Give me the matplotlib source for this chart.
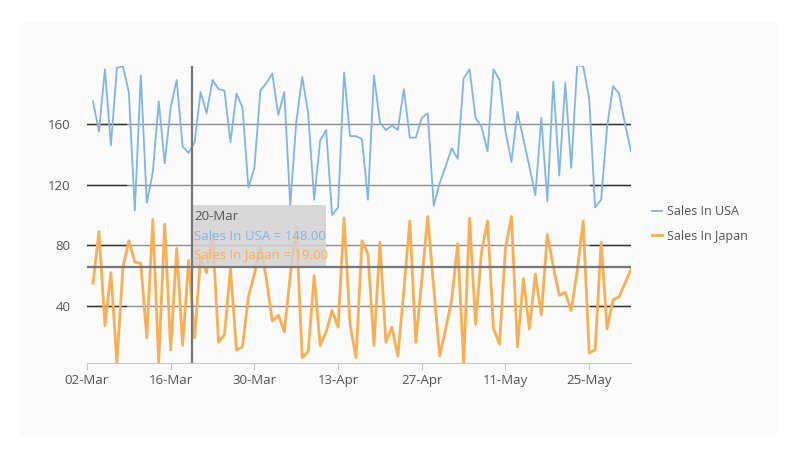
import pandas as pd
import matplotlib
matplotlib.use("Agg")
import matplotlib.pyplot as plt
import matplotlib.dates as mdates
from matplotlib.patches import Rectangle

plt.rcParams['font.family'] = ['Open Sans', 'DejaVu Sans']

# ---- data ----
dates = pd.date_range('2024-03-03', periods=91, freq='D')

sales_usa = [175, 155, 196, 146, 197, 198, 181, 103, 192, 108,
             128, 175, 134, 171, 189, 145, 141, 148, 181, 167,
             189, 183, 182, 148, 180, 171, 118, 131, 182, 187,
             193, 166, 181, 106, 161, 191, 167, 110, 149, 156,
             100, 105, 194, 152, 152, 150, 110, 192, 161, 156,
             159, 156, 183, 151, 151, 164, 167, 106, 121, 132,
             144, 137, 190, 196, 164, 158, 142, 196, 189, 155,
             135, 168, 150, 132, 113, 164, 109, 188, 126, 187,
             131, 199, 198, 177, 105, 110, 158, 185, 180, 160,
             142]

sales_japan = [55, 89, 27, 62, 3, 65, 83, 69, 68, 19,
               97, 3, 94, 11, 78, 14, 70, 19, 72, 62,
               88, 16, 21, 65, 11, 13, 46, 61, 80, 58,
               30, 34, 23, 60, 92, 6, 10, 60, 14, 23,
               37, 26, 98, 28, 6, 83, 74, 14, 82, 16,
               26, 7, 50, 96, 16, 57, 99, 52, 7, 25,
               44, 81, 2, 98, 28, 76, 96, 25, 15, 78,
               99, 13, 58, 25, 61, 34, 87, 66, 47, 49,
               37, 63, 96, 9, 11, 82, 25, 44, 46, 55,
               64]

y_ticks = [40, 80, 120, 160]
tooltip_idx = 17  # 20-Mar
crosshair_y = 65.7

usa_color = '#7fb6e6'
japan_color = '#fdae50'
text_color = '#555555'

fig = plt.figure(figsize=(8, 4.5), dpi=100)
fig.patch.set_facecolor('white')
fig.patches.append(Rectangle((20 / 800, 15 / 450), 758 / 800, 413 / 450,
                             transform=fig.transFigure, facecolor='#fbfbfb',
                             edgecolor='none', zorder=-10))

ax = fig.add_axes([87 / 800, 1 - 363 / 450, 544 / 800, 297 / 450])
ax.set_facecolor('none')

ax.plot(dates, sales_usa, color=usa_color, lw=1.3, label='Sales In USA', zorder=3)
ax.plot(dates, sales_japan, color=japan_color, lw=2.0, label='Sales In Japan', zorder=3)

ax.set_xlim(pd.Timestamp('2024-03-02'), dates[-1])
ax.set_ylim(2.4, 198.2)

# grid lines (gray with darker ends like the reference)
for v in y_ticks:
    ax.axhline(v, color='#8f8f8f', lw=1, zorder=1)
    ax.axhline(v, xmin=0, xmax=0.072, color='#333333', lw=1, zorder=1)
    ax.axhline(v, xmin=0.925, xmax=1, color='#333333', lw=1, zorder=1)

ax.set_yticks(y_ticks)
ax.set_xticks(pd.date_range('2024-03-02', '2024-05-25', freq='14D'))
ax.xaxis.set_major_formatter(mdates.DateFormatter('%d-%b'))
ax.tick_params(axis='y', length=0, labelsize=9.5, labelcolor=text_color, pad=12)
ax.tick_params(axis='x', length=5, color='#c8c8c8', labelsize=9.5,
               labelcolor=text_color, pad=3)

for s in ['top', 'right', 'left']:
    ax.spines[s].set_visible(False)
ax.spines['bottom'].set_color('#c8c8c8')

# crosshair + tooltip
cx = mdates.date2num(dates[tooltip_idx]) - 0.4
ax.axvline(cx, color='#777777', lw=1.6, zorder=5)
ax.axhline(crosshair_y, color='#777777', lw=1.6, zorder=5)
ax.add_patch(Rectangle((cx, crosshair_y), 22.4, 106.5 - crosshair_y,
                       facecolor='#d2d2d2', edgecolor='none', alpha=0.85, zorder=4))
label_day = dates[tooltip_idx].strftime('%d-%b')
ax.text(cx + 0.3, 98.7, label_day, color=text_color, fontsize=9.5, va='center', zorder=6)
ax.text(cx + 0.3, 86.1, f'Sales In USA = {sales_usa[tooltip_idx]:.2f}',
        color=usa_color, fontsize=9.5, va='center', zorder=6)
ax.text(cx + 0.3, 73.6, f'Sales In Japan = {sales_japan[tooltip_idx]:.2f}',
        color=japan_color, fontsize=9.5, va='center', zorder=6)

leg = ax.legend(loc='center left', bbox_to_anchor=(641 / 800, 1 - 224 / 450),
                bbox_transform=fig.transFigure, frameon=False, fontsize=9,
                handlelength=0.8, handletextpad=0.4, labelspacing=0.9)
for t in leg.get_texts():
    t.set_color(text_color)

fig.savefig('out.png', dpi=100)
